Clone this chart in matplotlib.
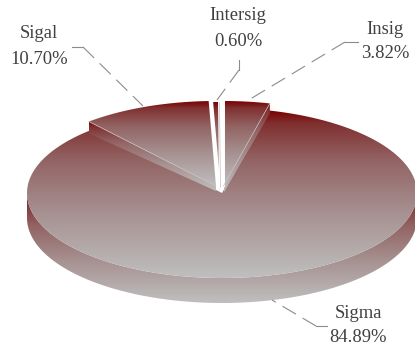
"""3D 风格饼图：Sigma / Sigal / Intersig / Insig。"""

import matplotlib
matplotlib.use('Agg')
import matplotlib.pyplot as plt
import numpy as np
from matplotlib.colors import LinearSegmentedColormap
from matplotlib.patches import Polygon

plt.rcParams['font.family'] = ['Liberation Serif', 'DejaVu Serif']

# 数据（顺时针，从正上方开始）
labels = ['Insig', 'Sigma', 'Sigal', 'Intersig']
shares = [3.82, 84.89, 10.70, 0.60]
share_text = ['3.82%', '84.89%', '10.70%', '0.60%']

RX, RY = 195, 85
DEPTH = 25
CENTER = (222, 193)
# 每个扇区的顶点（像素坐标）和可见侧面厚度（外缘, 顶点处）
apex = {'Insig': (223.5, 186), 'Sigma': CENTER, 'Sigal': (216, 186), 'Intersig': (219.5, 187)}
side = {'Insig': (10, 7), 'Sigal': (12, 5), 'Intersig': (4, 4)}
label_pos = {'Insig': (385, 29, 54), 'Sigma': (358, 314, 338), 'Sigal': (39, 34, 59), 'Intersig': (238, 16, 41)}
leaders = {
    'Insig': [(358, 42), (345, 42), (247, 101)],
    'Sigma': [(327, 326), (316, 326), (272, 300)],
    'Sigal': [(72, 47), (83, 47), (143, 106)],
    'Intersig': [(239, 60), (239, 70), (217, 100)],
}

cmap = LinearSegmentedColormap.from_list(
    'pie', [(0, '#7a0000'), (0.08, '#803030'), (0.3, '#936464'), (0.6, '#a68f8f'), (1, '#bfbfbf')])


def rim(cx, cy, a0, a1, n=200):
    t = np.radians(np.linspace(a0, a1, n))
    return np.column_stack([cx + RX * np.sin(t), cy - RY * np.cos(t)])


def fill_gradient(ax, pts, z, y0=None, y1=None):
    """用竖直渐变填充多边形。"""
    pts = np.asarray(pts)
    y0 = pts[:, 1].min() if y0 is None else y0
    y1 = pts[:, 1].max() if y1 is None else y1
    patch = Polygon(pts, closed=True, transform=ax.transData, fc='none', ec='none')
    ax.add_patch(patch)
    grad = np.linspace(0, 1, 256).reshape(-1, 1)
    im = ax.imshow(grad, cmap=cmap, aspect='auto', zorder=z,
                   extent=[pts[:, 0].min(), pts[:, 0].max(), y1, y0])
    im.set_clip_path(patch)


fig = plt.figure(figsize=(4.15, 3.5), dpi=100)
ax = fig.add_axes([0, 0, 1, 1])

edges = np.concatenate([[0], np.cumsum(shares)]) / sum(shares) * 360
spans = {name: (edges[i], edges[i + 1]) for i, name in enumerate(labels)}

# Sigma 侧面
cx, cy = apex['Sigma']
front = rim(cx, cy, 90, 270)
fill_gradient(ax, np.vstack([front, (front + [0, DEPTH])[::-1]]), 1, cy, cy + RY + DEPTH)

# Sigma 顶面
a0, a1 = spans['Sigma']
top = np.vstack([[cx, cy], rim(cx, cy, a0, a1)])
fill_gradient(ax, top, 2)

# 分离的小扇区
for z, name in [(3, 'Sigal'), (5, 'Insig'), (7, 'Intersig')]:
    a0, a1 = spans[name]
    cx, cy = apex[name]
    d_out, d_in = side[name]
    edge_angle = a1 if name == 'Insig' else a0
    outer = rim(cx, cy, edge_angle, edge_angle, 1)[0]
    band = [outer, (cx, cy), (cx, cy + d_in), (outer[0], outer[1] + d_out)]
    fill_gradient(ax, band, z)
    pts = np.vstack([[cx, cy], rim(cx, cy, a0, a1)])
    fill_gradient(ax, pts, z + 1)
    # 白色缝隙
    if name != 'Sigal':
        ax.plot(pts[[0, 1], 0], pts[[0, 1], 1], color='white', lw=1.4, zorder=z + 1)
    if name == 'Intersig':
        ax.plot(pts[[0, -1], 0], pts[[0, -1], 1], color='white', lw=1.4, zorder=z + 1)
    # 浅色棱线
    far = 1 if name == 'Sigal' else -1
    ax.plot(pts[[0, far], 0], pts[[0, far], 1], color='#cdbcbc', lw=0.5, zorder=z + 1)

# 引导线
for name, line in leaders.items():
    xs, ys = zip(*line)
    ax.plot(xs[:2], ys[:2], color='#8c8c8c', lw=0.8, zorder=9)
    ax.plot(xs[1:], ys[1:], color='#8c8c8c', lw=0.8, zorder=9, dashes=(14, 7))

# 标签
for name, txt in zip(labels, share_text):
    x, y0, y1 = label_pos[name]
    ax.text(x, y0, name, ha='center', va='center', fontsize=13.4, color='#404040', zorder=10)
    ax.text(x, y1, txt, ha='center', va='center', fontsize=13.4, color='#404040', zorder=10)

ax.set_xlim(0, 415)
ax.set_ylim(350, 0)
ax.axis('off')

fig.savefig('out.png', dpi=100)
